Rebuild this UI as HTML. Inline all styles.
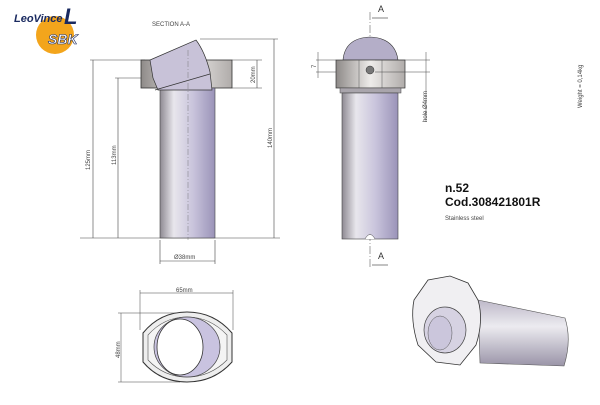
<!DOCTYPE html>
<html><head><style>
body{margin:0;background:#fff;width:600px;height:400px;overflow:hidden;font-family:"Liberation Sans",sans-serif}
</style></head><body>
<svg width="600" height="400" viewBox="0 0 600 400" xmlns="http://www.w3.org/2000/svg" font-family="Liberation Sans, sans-serif">
<defs>
<linearGradient id="tube" x1="0" x2="1" y1="0" y2="0">
<stop offset="0" stop-color="#8e8a92"/><stop offset="0.25" stop-color="#e8e6ec"/><stop offset="0.6" stop-color="#c9c4dc"/><stop offset="1" stop-color="#9a93b8"/>
</linearGradient>
<linearGradient id="flange" x1="0" x2="1"><stop offset="0" stop-color="#8e8a88"/><stop offset="0.5" stop-color="#eeecea"/><stop offset="1" stop-color="#b0acaa"/></linearGradient>
<linearGradient id="tube3" x1="0" x2="0" y1="0" y2="1"><stop offset="0" stop-color="#bdb8c8"/><stop offset="0.4" stop-color="#ecebf0"/><stop offset="1" stop-color="#9a94a8"/></linearGradient>
</defs>
<!-- logo -->
<circle cx="55" cy="35" r="19" fill="#f3a51c"/>
<text x="14" y="22" font-size="11" font-style="italic" font-weight="bold" fill="#1a2a60">LeoVince</text>
<text x="64" y="24" font-size="22" font-weight="bold" font-style="italic" fill="#1a2a60">L</text>
<text x="48" y="44" font-size="14" font-weight="bold" font-style="italic" fill="#fff" stroke="#1a2a60" stroke-width="0.6">SBK</text>
<text x="152" y="26" font-size="6" fill="#444">SECTION A-A</text>

<!-- left section view -->
<g stroke="#444" stroke-width="0.6" fill="none">
<line x1="90" y1="60" x2="145" y2="60"/><line x1="93" y1="60" x2="93" y2="238"/>
<line x1="115" y1="78" x2="150" y2="78"/><line x1="118" y1="78" x2="118" y2="238"/>
<line x1="80" y1="238" x2="280" y2="238"/>
<line x1="200" y1="39" x2="278" y2="39"/><line x1="274" y1="39" x2="274" y2="238"/>
<line x1="232" y1="60" x2="262" y2="60"/><line x1="232" y1="88" x2="262" y2="88"/><line x1="257" y1="60" x2="257" y2="88"/>
<line x1="160" y1="240" x2="160" y2="264"/><line x1="215" y1="240" x2="215" y2="264"/><line x1="160" y1="261" x2="215" y2="261"/>
</g>
<rect x="141" y="60" width="91" height="28" fill="url(#flange)" stroke="#333" stroke-width="0.8"/>
<rect x="160" y="88" width="55" height="150" fill="url(#tube)" stroke="#444" stroke-width="0.6"/>
<path d="M153 78 L158 90 L212 90 L210 72 Q205 52 196 40 L150 60 Z" fill="#c8c2d8" stroke="#333" stroke-width="0.7"/>
<line x1="155" y1="90" x2="210" y2="74" stroke="#333" stroke-width="0.7"/>
<line x1="188" y1="50" x2="188" y2="240" stroke="#666" stroke-width="0.4" stroke-dasharray="6,2,1,2"/>
<g font-size="6" fill="#444">
<text transform="translate(90 170) rotate(-90)">125mm</text>
<text transform="translate(116 165) rotate(-90)">113mm</text>
<text transform="translate(272 148) rotate(-90)">140mm</text>
<text transform="translate(255 83) rotate(-90)">20mm</text>
<text x="174" y="259">Ø38mm</text>
</g>

<!-- middle view -->
<line x1="370" y1="12" x2="370" y2="268" stroke="#444" stroke-width="0.5" stroke-dasharray="8,2,1,2"/>
<text x="378" y="12" font-size="9" fill="#333">A</text>
<line x1="372" y1="18" x2="388" y2="18" stroke="#333" stroke-width="0.6"/>
<text x="378" y="259" font-size="9" fill="#333">A</text>
<line x1="372" y1="265" x2="388" y2="265" stroke="#333" stroke-width="0.6"/>
<path d="M343 60 Q345 38 370 37 Q395 38 398 60 Z" fill="#b4aec8" stroke="#333" stroke-width="0.6"/>
<rect x="336" y="60" width="69" height="28" fill="url(#flange)" stroke="#333" stroke-width="0.7"/>
<line x1="359" y1="60" x2="359" y2="88" stroke="#555" stroke-width="0.5"/><line x1="382" y1="60" x2="382" y2="88" stroke="#555" stroke-width="0.5"/>
<circle cx="370" cy="70" r="4" fill="#777" stroke="#333" stroke-width="0.5"/>
<rect x="340" y="88" width="61" height="5" fill="#a9a5ac" stroke="#444" stroke-width="0.5"/>
<rect x="342" y="93" width="56" height="146" fill="url(#tube)" stroke="#444" stroke-width="0.6"/>
<path d="M365 239 Q370 230 375 239" fill="#fff" stroke="#444" stroke-width="0.5"/>
<g stroke="#444" stroke-width="0.5">
<line x1="316" y1="60" x2="336" y2="60"/><line x1="316" y1="72" x2="336" y2="72"/><line x1="318" y1="52" x2="318" y2="78"/>
<line x1="375" y1="60" x2="430" y2="60"/><line x1="375" y1="72" x2="430" y2="72"/><line x1="426" y1="52" x2="426" y2="122"/>
</g>
<g font-size="6" fill="#444">
<text transform="translate(316 68) rotate(-90)">7</text>
<text transform="translate(427 122) rotate(-90)">hole Ø4mm</text>
<text transform="translate(582 108) rotate(-90)">Weight = 0,14kg</text>
<text x="445" y="220" font-size="6">Stainless steel</text>
</g>
<text x="445" y="192" font-size="12" font-weight="bold" fill="#111">n.52</text>
<text x="445" y="206" font-size="12" font-weight="bold" fill="#111">Cod.308421801R</text>

<!-- bottom-left front view -->
<g stroke="#444" stroke-width="0.5">
<line x1="140" y1="293" x2="233" y2="293"/><line x1="140" y1="290" x2="140" y2="330"/><line x1="233" y1="290" x2="233" y2="330"/>
<line x1="121" y1="313" x2="121" y2="382"/><line x1="118" y1="313" x2="180" y2="313"/><line x1="118" y1="382" x2="180" y2="382"/>
</g>
<text x="176" y="292" font-size="6" fill="#444">65mm</text>
<text transform="translate(120 358) rotate(-90)" font-size="6" fill="#444">48mm</text>
<path d="M143 333 Q160 312 187 312 Q214 312 232 333 L232 362 Q214 382 187 382 Q160 382 143 362 Z" fill="#eee" stroke="#333" stroke-width="1"/>
<path d="M148 335 Q164 317 187 317 Q210 317 227 335 L227 360 Q210 377 187 377 Q164 377 148 360 Z" fill="#f4f4f4" stroke="#555" stroke-width="0.6"/>
<ellipse cx="187" cy="347" rx="33" ry="30" fill="#c9c3e0" stroke="#444" stroke-width="0.7"/>
<ellipse cx="180" cy="347" rx="23" ry="28" fill="#fff" stroke="#333" stroke-width="0.8"/>

<!-- bottom-right 3d -->
<path d="M478 300 L565 318 Q572 340 564 366 L480 363 Z" fill="url(#tube3)" stroke="#555" stroke-width="0.6"/>
<path d="M414 300 L428 280 L450 276 L468 283 L478 300 Q484 320 476 345 L460 365 L436 362 L418 345 Q410 320 414 300 Z" fill="#f0eff2" stroke="#333" stroke-width="0.8"/>
<ellipse cx="445" cy="330" rx="21" ry="23" fill="#d6d2e2" stroke="#444" stroke-width="0.7"/>
<ellipse cx="440" cy="333" rx="12" ry="17" fill="#cbc6dc" stroke="#555" stroke-width="0.5"/>
</svg>
</body></html>
